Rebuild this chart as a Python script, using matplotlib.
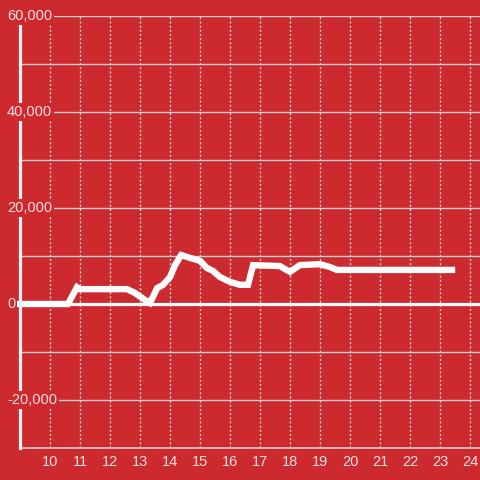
import matplotlib
matplotlib.use('Agg')
import matplotlib.pyplot as plt

# hour of day vs value
hours = [9.0, 10.6, 10.9, 11.0, 12.57, 12.83, 13.27, 13.33, 13.57, 13.77, 14.0,
         14.17, 14.37, 14.67, 15.0, 15.23, 15.43, 15.67, 16.0, 16.33, 16.6,
         16.77, 17.67, 17.77, 18.0, 18.33, 19.0, 19.33, 19.57, 23.4]
values = [0, 0, 3500, 3100, 3100, 2300, 400, 200, 3300, 4000, 5600,
          8100, 10200, 9600, 9000, 7500, 6900, 5600, 4600, 4000, 4000,
          8100, 7900, 7500, 6700, 8100, 8300, 7700, 7100, 7100]

x_ticks = list(range(10, 25))
y_ticks = [-20000, 0, 20000, 40000, 60000]
y_minor = [-10000, 10000, 30000, 50000]

bg = '#cc2a2f'
grid_col = '#cfcfcf'
text_col = '#f6dede'

fig = plt.figure(figsize=(4.8, 4.8), dpi=100, facecolor=bg)
ax = fig.add_axes([20 / 480, 32 / 480, 460 / 480, 432 / 480])
ax.set_facecolor(bg)
ax.set_xlim(9.0, 24.333)
ax.set_ylim(-30000, 60000)

for v in y_ticks + y_minor:
    if v != 0:
        ax.axhline(v, color=grid_col, lw=1.0, zorder=1)
for h in x_ticks:
    ax.axvline(h, color=grid_col, lw=1.0, ls=(0, (1.5, 1.5)), zorder=1)

ax.axhline(0, color='white', lw=2.3, zorder=2, xmin=-0.01)
ax.plot(hours, values, color='white', lw=4.6, zorder=3,
        solid_capstyle='projecting', solid_joinstyle='miter', clip_on=False)

for s in ['top', 'right']:
    ax.spines[s].set_visible(False)
ax.spines['left'].set_color('#f2f2f2')
ax.spines['left'].set_linewidth(2.3)
ax.spines['left'].set_zorder(4)
ax.spines['bottom'].set_color(grid_col)
ax.spines['bottom'].set_linewidth(1.2)

ax.set_xticks(x_ticks)
ax.set_xticklabels([str(h) for h in x_ticks])
ax.tick_params(axis='x', length=0, pad=5, labelsize=10.5, labelcolor=text_col)
ax.set_yticks([])

for v in y_ticks:
    label = f'{v:,}'
    ax.text(-13 / 460 * 15.333 + 9.0, v, label, ha='left', va='center',
            fontsize=10.5, color=text_col, family='Liberation Sans', zorder=5,
            bbox=dict(boxstyle='square,pad=0.15', fc=bg, ec='none'),
            clip_on=False)

for t in ax.get_xticklabels():
    t.set_family('Liberation Sans')

fig.savefig('out.png', dpi=100, facecolor=bg)
